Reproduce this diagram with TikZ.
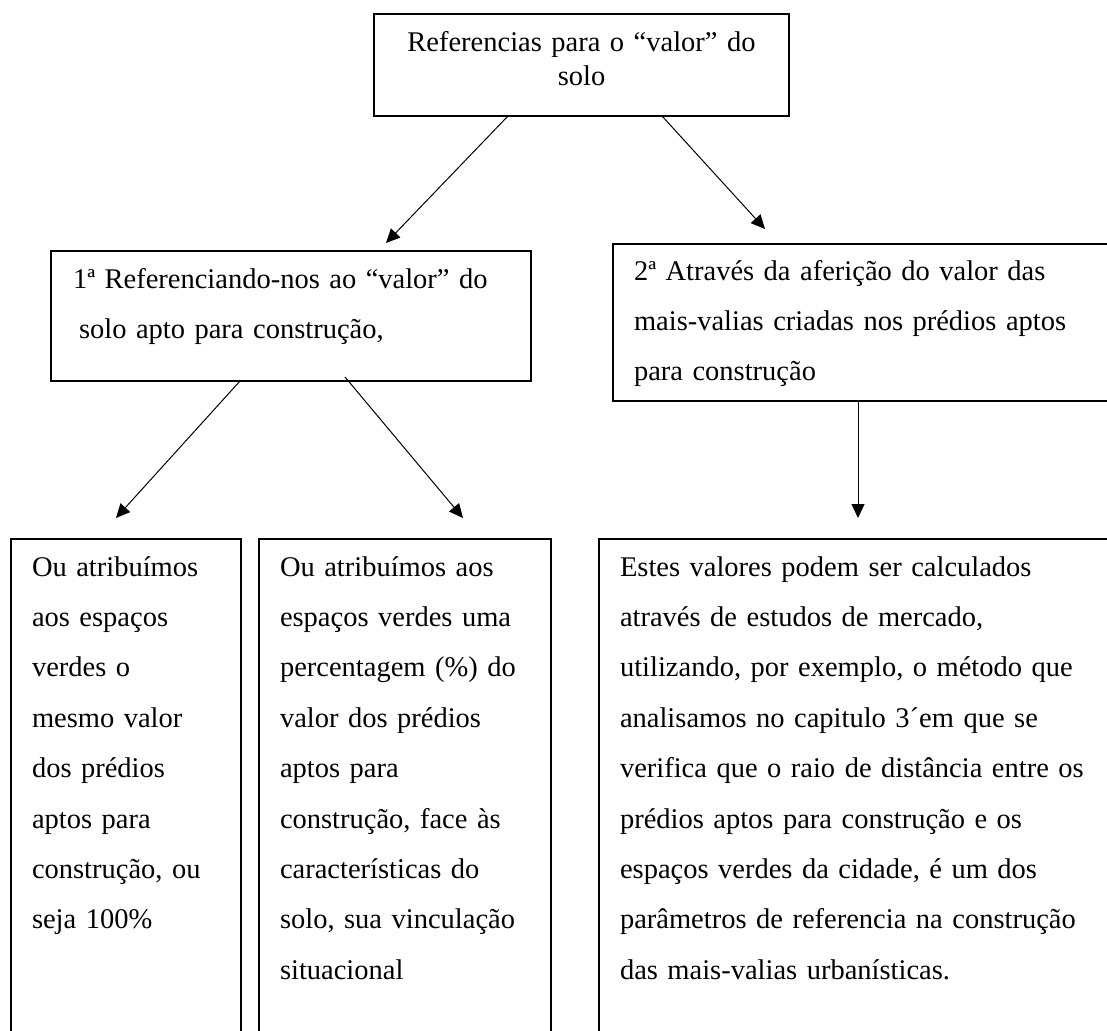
\documentclass[tikz,border=0pt]{standalone}
\usepackage{fontspec}
\setmainfont{Liberation Serif}
\usetikzlibrary{arrows.meta,calc}

\begin{document}
\begin{tikzpicture}[x=1pt, y=1pt,
		caixa/.style={rectangle, draw, line width=1.2pt, anchor=north west, outer sep=0pt, inner ysep=0pt, inner xsep=21pt, align=left, text height=37pt, font=\fontsize{28.5}{50.4}\selectfont},
		seta/.style={line width=1pt, -{Triangle[length=14pt,width=13pt]}}]
		\useasboundingbox (0,0) rectangle (1107,-1030);
		\node (solo) at (374,-14) [caixa, align=center, inner xsep=10pt, text width=395pt, text height=38pt, text depth=64pt, font=\fontsize{28.5}{33.6}\selectfont] {Referencias para o “valor” do\\solo};
		\node (prim) at (51,-251) [caixa, inner xsep=22pt, text width=436pt, text depth=93pt] {1ª Referenciando-nos ao “valor” do\\\hspace*{6pt}solo apto para construção,};
		\node (seg) at (613,-244) [caixa, text width=490pt, text height=36pt, text depth=121pt] {2ª Através da aferição do valor das\\mais-valias criadas nos prédios aptos\\para construção};
		\node (igual) at (11,-539) [caixa, text width=188pt, text depth=464pt] {Ou atribuímos\\aos espaços\\verdes o\\mesmo valor\\dos prédios\\aptos para\\construção, ou\\seja 100\%};
		\node (perc) at (259,-539) [caixa, text width=250pt, text depth=464pt] {Ou atribuímos aos\\espaços verdes uma\\percentagem (\%) do\\valor dos prédios\\aptos para\\construção, face às\\características do\\solo, sua vinculação\\situacional};
		\node (merc) at (599,-539) [caixa, text width=500pt, text depth=464pt] {Estes valores podem ser calculados\\através de estudos de mercado,\\utilizando, por exemplo, o método que\\analisamos no capitulo 3´em que se\\verifica que o raio de distância entre os\\prédios aptos para construção e os\\espaços verdes da cidade, é um dos\\parâmetros de referencia na construção\\das mais-valias urbanísticas.};
		\draw[seta] ($(solo.south west)+(134,0)$) -- ($(prim.north west)+(335,8)$);
		\draw[seta] ($(solo.south west)+(288,0)$) -- ($(seg.north west)+(152,15)$);
		\draw[seta] ($(prim.south west)+(189,0)$) -- ($(igual.north west)+(105,21)$);
		\draw[seta] ($(prim.south west)+(294,4)$) -- ($(perc.north west)+(204,21)$);
		\draw[seta] ($(seg.south west)+(245,0)$) -- ($(merc.north west)+(259,21)$);
	\end{tikzpicture}
\end{document}
